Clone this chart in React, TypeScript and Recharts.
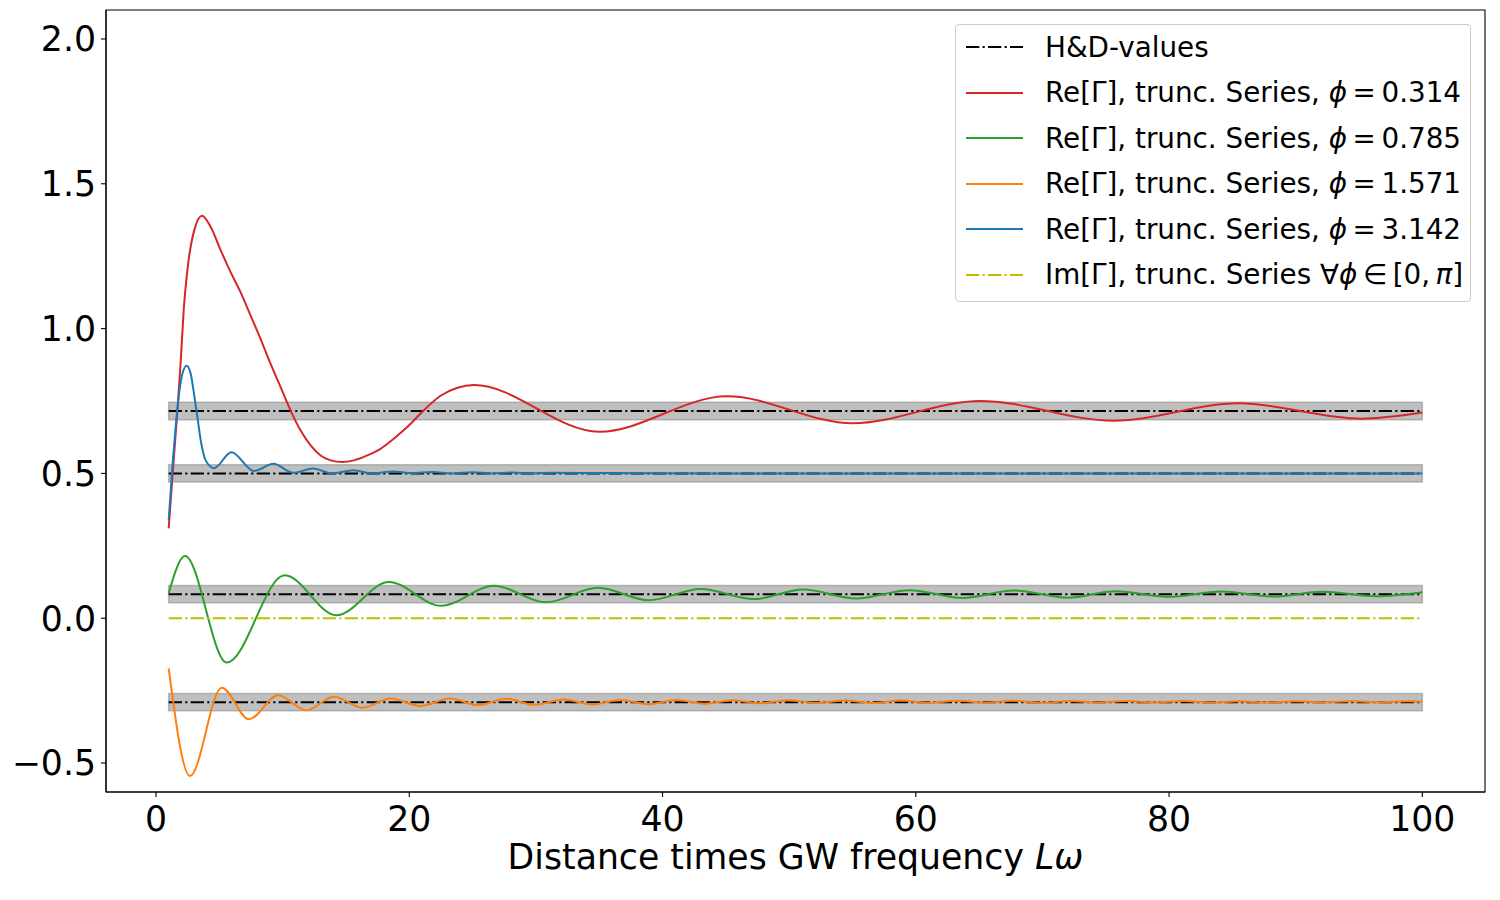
import React from 'react';
import { LineChart, Line, XAxis, YAxis, ReferenceArea, Legend } from 'recharts';

// ---------- data ----------
const xTicks = [0, 20, 40, 60, 80, 100];
const yTicks = [-0.5, 0, 0.5, 1, 1.5, 2];
const xDomain = [-3.95, 104.95];
const yDomain = [-0.6, 2.1];

// Hellings & Downs values for phi = 0.314, 3.142, 0.785, 1.571
const hdValues = [0.7154, 0.5, 0.083, -0.2897];
const bandHalfWidth = 0.03;
const lineStart = 1;
const lineEnd = 100;
const imValue = 0;

const redX = [1, 1.35, 1.71, 1.97, 2.18, 2.5, 3.02, 3.63, 4.33, 5.11, 5.9, 6.68, 7.47, 8.26, 9.05, 9.84, 10.63, 11.42, 12.21, 13.0, 13.79, 14.71, 15.63, 16.68, 17.73, 18.78, 19.84, 21.15, 22.47, 23.8, 25.1, 35.0, 45.1, 55.0, 65.1, 75.6, 85.5, 95.2, 100];
const redY = [0.31, 0.52, 0.73, 0.9, 1.06, 1.21, 1.34, 1.39, 1.35, 1.27, 1.194, 1.125, 1.045, 0.964, 0.878, 0.798, 0.717, 0.648, 0.597, 0.562, 0.545, 0.539, 0.545, 0.562, 0.585, 0.62, 0.66, 0.718, 0.768, 0.796, 0.805, 0.644, 0.766, 0.673, 0.75, 0.682, 0.742, 0.689, 0.71];

const greenX = [1, 2.29, 5.58, 10.16, 14.24, 18.39, 22.5, 26.7, 30.8, 34.9, 38.9, 43.0, 47.2, 51.1, 55.3, 59.5, 63.7, 67.7, 72.0, 75.8, 79.9, 84.1, 88.3, 92.1, 96.4, 100];
const greenY = [0.087, 0.215, -0.153, 0.148, 0.01, 0.125, 0.043, 0.112, 0.055, 0.105, 0.062, 0.101, 0.066, 0.099, 0.068, 0.097, 0.07, 0.096, 0.071, 0.093, 0.074, 0.092, 0.075, 0.091, 0.076, 0.09];

const orangeX = [1, 2.68, 5.19, 7.34, 9.63, 11.87, 14.05, 16.29, 18.52, 20.89, 23.2, 25.4, 27.7, 29.8, 32.2, 34.4, 36.7, 38.9, 41.1, 43.3, 45.6, 47.7, 49.9, 52.2, 54.4, 56.7, 58.8, 61.1, 63.3, 65.5, 67.7, 70.0, 72.2, 74.4, 76.6, 78.8, 81.1, 83.3, 85.5, 87.7, 89.9, 92.2, 94.4, 96.6, 98.8, 100];
const orangeY = [-0.173, -0.545, -0.24, -0.349, -0.266, -0.318, -0.271, -0.309, -0.277, -0.303, -0.277, -0.3, -0.278, -0.299, -0.281, -0.298, -0.282, -0.297, -0.282, -0.295, -0.283, -0.294, -0.283, -0.293, -0.284, -0.293, -0.284, -0.292, -0.285, -0.292, -0.285, -0.292, -0.286, -0.291, -0.286, -0.291, -0.286, -0.291, -0.287, -0.291, -0.287, -0.29, -0.287, -0.29, -0.287, -0.288];

const blueX = [1, 1.29, 1.55, 1.82, 2.08, 2.42, 2.74, 3.0, 3.27, 3.53, 3.92, 4.58, 5.95, 7.74, 9.27, 10.85, 12.4, 13.9, 15.6, 17.0, 18.7, 20.2, 21.8, 23.4, 25.0, 26.5, 28.1, 29.7, 31.3, 35, 45, 60, 80, 100];
const blueY = [0.338, 0.522, 0.66, 0.775, 0.844, 0.872, 0.844, 0.775, 0.694, 0.614, 0.545, 0.518, 0.573, 0.508, 0.533, 0.502, 0.517, 0.5, 0.511, 0.5, 0.507, 0.501, 0.505, 0.5, 0.504, 0.5, 0.503, 0.5, 0.502, 0.501, 0.5, 0.5, 0.5, 0.5];

const phiLabels = ['0.314', '0.785', '1.571', '3.142'];

// ---------- styles ----------
const FONT = 'DejaVu Sans';
const C_RED = '#d62728';
const C_GREEN = '#2ca02c';
const C_ORANGE = '#ff7f0e';
const C_BLUE = '#1f77b4';
const C_YELLOW = '#bfbf00';
const DASHDOT = '13.3 3.3 2.1 3.3';
const TS = '\u2009';

const zip = (xs: number[], ys: number[]) => xs.map((x, i) => ({ x, y: ys[i] }));
const redData = zip(redX, redY);
const greenData = zip(greenX, greenY);
const orangeData = zip(orangeX, orangeY);
const blueData = zip(blueX, blueY);
const hdData = hdValues.map((v) => zip([lineStart, lineEnd], [v, v]));
const imData = zip([lineStart, lineEnd], [imValue, imValue]);

const fmtY = (v: number) => (v < 0 ? '\u2212' + Math.abs(v).toFixed(1) : v.toFixed(1));

const legendItems = [
  { color: '#000', dash: DASHDOT, label: <span>H&amp;D-values</span> },
  ...[C_RED, C_GREEN, C_ORANGE, C_BLUE].map((c, i) => ({
    color: c,
    dash: undefined as string | undefined,
    label: (
      <span>
        Re[Γ], trunc. Series, <i>ϕ</i>
        {TS}={TS}
        {phiLabels[i]}
      </span>
    ),
  })),
  {
    color: C_YELLOW,
    dash: DASHDOT,
    label: (
      <span>
        Im[Γ], trunc. Series ∀<i>ϕ</i>
        {TS}∈{TS}[0,{TS}
        <i>π</i>]
      </span>
    ),
  },
];

const LegendBox = () => (
  <div
    style={{
      position: 'relative',
      width: 516,
      height: 278,
      boxSizing: 'border-box',
      border: '1px solid #cccccc',
      borderRadius: 4,
      background: 'rgba(255,255,255,0.8)',
      fontFamily: FONT,
      fontSize: 27.8,
      color: '#000',
    }}
  >
    {legendItems.map((it, i) => (
      <div
        key={i}
        style={{
          position: 'absolute',
          left: 0,
          top: 22 + i * 45.5 - 20,
          height: 40,
          display: 'flex',
          alignItems: 'center',
          whiteSpace: 'nowrap',
        }}
      >
        <svg width={89} height={40} style={{ flex: 'none' }}>
          <line x1={10} x2={67} y1={20} y2={20} stroke={it.color} strokeWidth={2} strokeDasharray={it.dash} />
        </svg>
        {it.label}
      </div>
    ))}
  </div>
);

const XLabel = (props: any) => {
  const vb = props.viewBox || {};
  const cx = (vb.x ?? 106) + (vb.width ?? 1379) / 2;
  const y = (vb.y ?? 792) + 76.5;
  return (
    <text x={cx} y={y} textAnchor="middle" fontFamily={FONT} fontSize={34.7} fill="#000">
      Distance times GW frequency <tspan fontStyle="italic">Lω</tspan>
    </text>
  );
};

const tickStyle = { fill: '#000', fontSize: 34.7, fontFamily: FONT };

export default function App() {
  return (
    <div style={{ position: 'absolute', left: 0, top: 0, width: 1500, height: 900, background: '#fff' }}>
      <LineChart width={1500} height={900} margin={{ top: 10, right: 15, bottom: 0, left: 0 }}>
        <XAxis
          dataKey="x"
          type="number"
          domain={xDomain}
          ticks={xTicks}
          allowDataOverflow
          height={108}
          tickSize={5}
          tickMargin={9}
          tick={tickStyle}
          stroke="#000"
          axisLine={{ stroke: '#000', strokeWidth: 1.1 }}
          tickLine={{ stroke: '#000', strokeWidth: 1.1 }}
          label={<XLabel />}
        />
        <YAxis
          type="number"
          domain={yDomain}
          ticks={yTicks}
          allowDataOverflow
          width={106}
          tickSize={5}
          tickMargin={5}
          tick={tickStyle}
          tickFormatter={fmtY}
          axisLine={{ stroke: '#000', strokeWidth: 1.1 }}
          tickLine={{ stroke: '#000', strokeWidth: 1.1 }}
        />
        {hdValues.map((v, i) => (
          <ReferenceArea
            key={'band' + i}
            x1={lineStart}
            x2={lineEnd}
            y1={v - bandHalfWidth}
            y2={v + bandHalfWidth}
            fill="#808080"
            fillOpacity={0.5}
            stroke="#808080"
            strokeOpacity={0.5}
            strokeWidth={1.5}
          />
        ))}
        {hdData.map((d, i) => (
          <Line
            key={'hd' + i}
            data={d}
            dataKey="y"
            type="linear"
            stroke="#000"
            strokeWidth={2}
            strokeDasharray={DASHDOT}
            dot={false}
            activeDot={false}
            isAnimationActive={false}
          />
        ))}
        <Line data={redData} dataKey="y" type="monotone" stroke={C_RED} strokeWidth={2} dot={false} activeDot={false} isAnimationActive={false} />
        <Line data={greenData} dataKey="y" type="monotone" stroke={C_GREEN} strokeWidth={2} dot={false} activeDot={false} isAnimationActive={false} />
        <Line data={orangeData} dataKey="y" type="monotone" stroke={C_ORANGE} strokeWidth={2} dot={false} activeDot={false} isAnimationActive={false} />
        <Line data={blueData} dataKey="y" type="monotone" stroke={C_BLUE} strokeWidth={2} dot={false} activeDot={false} isAnimationActive={false} />
        <Line data={imData} dataKey="y" type="linear" stroke={C_YELLOW} strokeWidth={2} strokeDasharray={DASHDOT} dot={false} activeDot={false} isAnimationActive={false} />
        <ReferenceArea
          x1={xDomain[0]}
          x2={xDomain[1]}
          y1={yDomain[0]}
          y2={yDomain[1]}
          ifOverflow="visible"
          fill="none"
          stroke="#000"
          strokeWidth={1.1}
        />
        <Legend
          layout="horizontal"
          verticalAlign="middle"
          align="center"
          content={() => <LegendBox />}
          wrapperStyle={{ left: 955, top: 24, width: 516, height: 278 }}
        />
      </LineChart>
    </div>
  );
}
